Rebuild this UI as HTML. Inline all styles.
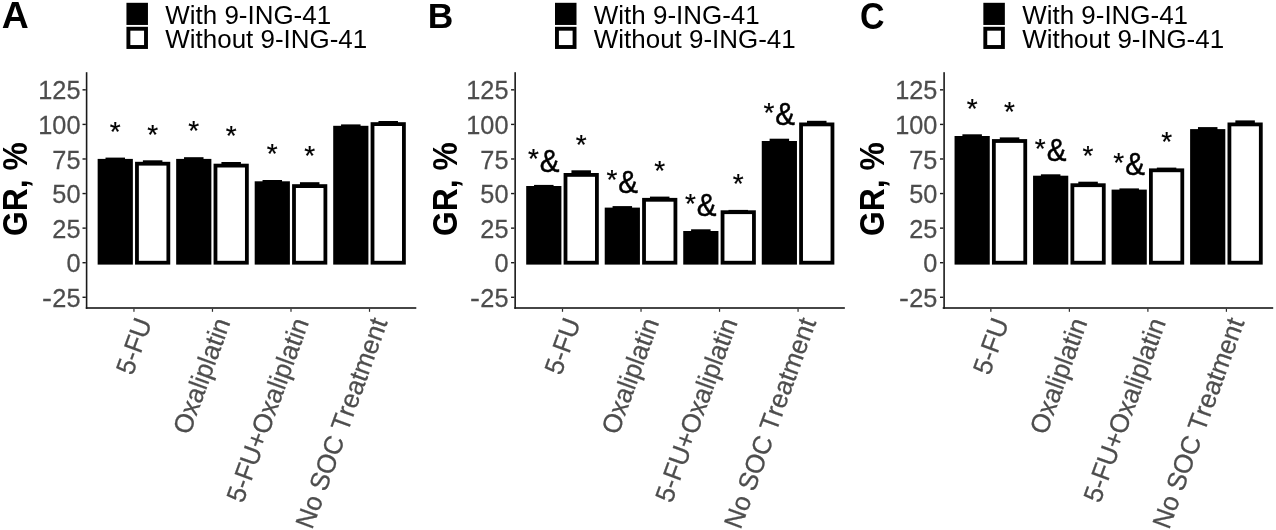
<!DOCTYPE html>
<html><head><meta charset="utf-8"><title>Figure</title>
<style>
html,body{margin:0;padding:0;background:#fff;}
body{width:1276px;height:530px;overflow:hidden;font-family:"Liberation Sans",sans-serif;}
svg{display:block;will-change:transform;filter:blur(0.35px);}
svg text{font-family:"Liberation Sans",sans-serif;font-kerning:none;}
.b{font-weight:bold;fill:#000;}
.g{fill:#4d4d4d;stroke:#4d4d4d;stroke-width:0.25px;}
.k{fill:#000;}
.ka{fill:#000;stroke:#000;stroke-width:0.45px;}
.ks{fill:#000;stroke:#000;stroke-width:0.2px;}
</style></head><body>
<svg width="1276" height="530" viewBox="0 0 1276 530">
<rect x="0" y="0" width="1276" height="530" fill="#fff"/>
<g transform="translate(0.00,0)">
<text class="b" transform="translate(1.87,27.85) scale(1.084,1.045)" font-size="34.50">A</text>
<rect x="126.45" y="2.80" width="21.50" height="22.15" fill="#000"/>
<rect x="126.45" y="26.80" width="21.50" height="22.15" fill="#000"/>
<rect x="130.35" y="30.70" width="13.70" height="14.35" fill="#fff"/>
<text class="k" transform="translate(165.30,23.55) scale(1,1.010)" font-size="25.95">With 9-ING-41</text>
<text class="k" transform="translate(165.30,48.00) scale(1,1.010)" font-size="25.95">Without 9-ING-41</text>
<text class="b" transform="translate(26.90,189.10) rotate(-90) scale(0.935,1.030)" text-anchor="middle" font-size="34.00">GR, %</text>
<rect x="85.80" y="72.20" width="1.60" height="236.60" fill="#1a1a1a"/>
<rect x="85.80" y="307.20" width="330.50" height="1.60" fill="#1a1a1a"/>
<rect x="82.50" y="89.13" width="3.30" height="1.40" fill="#1a1a1a"/>
<text class="g" transform="translate(80.50,99.38) scale(0.985,1.030)" text-anchor="end" font-size="25.70">125</text>
<rect x="82.50" y="123.71" width="3.30" height="1.40" fill="#1a1a1a"/>
<text class="g" transform="translate(80.50,133.96) scale(0.985,1.030)" text-anchor="end" font-size="25.70">100</text>
<rect x="82.50" y="158.28" width="3.30" height="1.40" fill="#1a1a1a"/>
<text class="g" transform="translate(80.50,168.53) scale(0.985,1.030)" text-anchor="end" font-size="25.70">75</text>
<rect x="82.50" y="192.86" width="3.30" height="1.40" fill="#1a1a1a"/>
<text class="g" transform="translate(80.50,203.11) scale(0.985,1.030)" text-anchor="end" font-size="25.70">50</text>
<rect x="82.50" y="227.43" width="3.30" height="1.40" fill="#1a1a1a"/>
<text class="g" transform="translate(80.50,237.68) scale(0.985,1.030)" text-anchor="end" font-size="25.70">25</text>
<rect x="82.50" y="262.01" width="3.30" height="1.40" fill="#1a1a1a"/>
<text class="g" transform="translate(80.50,272.26) scale(0.985,1.030)" text-anchor="end" font-size="25.70">0</text>
<rect x="82.50" y="296.58" width="3.30" height="1.40" fill="#1a1a1a"/>
<text class="g" transform="translate(80.50,306.83) scale(0.985,1.030)" text-anchor="end" font-size="25.70">25</text>
<text class="g" transform="translate(51.95,306.83) scale(1.160,1.030)" text-anchor="end" font-size="25.70">-</text>
<rect x="133.35" y="308.80" width="1.20" height="3.00" fill="#2e2e2e"/>
<text class="g" transform="translate(152.25,322.10) rotate(-70.0) scale(1,1.020)" text-anchor="end" font-size="25.90">5-FU</text>
<rect x="211.87" y="308.80" width="1.20" height="3.00" fill="#2e2e2e"/>
<text class="g" transform="translate(230.77,322.10) rotate(-70.0) scale(1,1.020)" text-anchor="end" font-size="25.90">Oxaliplatin</text>
<rect x="290.39" y="308.80" width="1.20" height="3.00" fill="#2e2e2e"/>
<text class="g" transform="translate(309.29,322.10) rotate(-70.0) scale(1,1.020)" text-anchor="end" font-size="25.90">5-FU+Oxaliplatin</text>
<rect x="368.91" y="308.80" width="1.20" height="3.00" fill="#2e2e2e"/>
<text class="g" transform="translate(387.81,322.10) rotate(-70.0) scale(1,1.020)" text-anchor="end" font-size="25.90">No SOC Treatment</text>
<rect x="97.65" y="158.90" width="35.20" height="105.70" fill="#000"/>
<rect x="105.50" y="157.60" width="19.50" height="2.30" fill="#000"/>
<text class="ks" x="115.25" y="140.80" text-anchor="middle" font-size="28.00">*</text>
<rect x="135.05" y="161.80" width="35.20" height="102.80" fill="#000"/>
<rect x="138.85" y="165.60" width="27.60" height="95.20" fill="#fff"/>
<rect x="142.90" y="160.30" width="19.50" height="2.50" fill="#000"/>
<text class="ks" x="152.65" y="143.50" text-anchor="middle" font-size="28.00">*</text>
<rect x="176.17" y="158.90" width="35.20" height="105.70" fill="#000"/>
<rect x="184.02" y="157.20" width="19.50" height="2.70" fill="#000"/>
<text class="ks" x="193.77" y="140.40" text-anchor="middle" font-size="28.00">*</text>
<rect x="213.57" y="163.70" width="35.20" height="100.90" fill="#000"/>
<rect x="217.37" y="167.50" width="27.60" height="93.30" fill="#fff"/>
<rect x="221.42" y="162.00" width="19.50" height="2.70" fill="#000"/>
<text class="ks" x="231.17" y="145.20" text-anchor="middle" font-size="28.00">*</text>
<rect x="254.69" y="181.30" width="35.20" height="83.30" fill="#000"/>
<rect x="262.54" y="180.00" width="19.50" height="2.30" fill="#000"/>
<text class="ks" x="272.29" y="163.20" text-anchor="middle" font-size="28.00">*</text>
<rect x="292.09" y="184.20" width="35.20" height="80.40" fill="#000"/>
<rect x="295.89" y="188.00" width="27.60" height="72.80" fill="#fff"/>
<rect x="299.94" y="182.20" width="19.50" height="3.00" fill="#000"/>
<text class="ks" x="309.69" y="165.40" text-anchor="middle" font-size="28.00">*</text>
<rect x="333.21" y="125.80" width="35.20" height="138.80" fill="#000"/>
<rect x="341.06" y="124.40" width="19.50" height="2.40" fill="#000"/>
<rect x="370.61" y="122.20" width="35.20" height="142.40" fill="#000"/>
<rect x="374.41" y="126.00" width="27.60" height="134.80" fill="#fff"/>
<rect x="378.46" y="121.00" width="19.50" height="2.20" fill="#000"/>
</g>
<g transform="translate(428.55,0)">
<text class="b" transform="translate(-0.92,28.05) scale(1.026,1.040)" font-size="34.50">B</text>
<rect x="126.45" y="2.80" width="21.50" height="22.15" fill="#000"/>
<rect x="126.45" y="26.80" width="21.50" height="22.15" fill="#000"/>
<rect x="130.35" y="30.70" width="13.70" height="14.35" fill="#fff"/>
<text class="k" transform="translate(165.30,23.55) scale(1,1.010)" font-size="25.95">With 9-ING-41</text>
<text class="k" transform="translate(165.30,48.00) scale(1,1.010)" font-size="25.95">Without 9-ING-41</text>
<text class="b" transform="translate(28.05,189.10) rotate(-90) scale(0.935,1.030)" text-anchor="middle" font-size="34.00">GR, %</text>
<rect x="85.80" y="72.20" width="1.60" height="236.60" fill="#1a1a1a"/>
<rect x="85.80" y="307.20" width="330.50" height="1.60" fill="#1a1a1a"/>
<rect x="82.50" y="89.13" width="3.30" height="1.40" fill="#1a1a1a"/>
<text class="g" transform="translate(79.95,99.38) scale(0.985,1.030)" text-anchor="end" font-size="25.70">125</text>
<rect x="82.50" y="123.71" width="3.30" height="1.40" fill="#1a1a1a"/>
<text class="g" transform="translate(79.95,133.96) scale(0.985,1.030)" text-anchor="end" font-size="25.70">100</text>
<rect x="82.50" y="158.28" width="3.30" height="1.40" fill="#1a1a1a"/>
<text class="g" transform="translate(79.95,168.53) scale(0.985,1.030)" text-anchor="end" font-size="25.70">75</text>
<rect x="82.50" y="192.86" width="3.30" height="1.40" fill="#1a1a1a"/>
<text class="g" transform="translate(79.95,203.11) scale(0.985,1.030)" text-anchor="end" font-size="25.70">50</text>
<rect x="82.50" y="227.43" width="3.30" height="1.40" fill="#1a1a1a"/>
<text class="g" transform="translate(79.95,237.68) scale(0.985,1.030)" text-anchor="end" font-size="25.70">25</text>
<rect x="82.50" y="262.01" width="3.30" height="1.40" fill="#1a1a1a"/>
<text class="g" transform="translate(79.95,272.26) scale(0.985,1.030)" text-anchor="end" font-size="25.70">0</text>
<rect x="82.50" y="296.58" width="3.30" height="1.40" fill="#1a1a1a"/>
<text class="g" transform="translate(79.95,306.83) scale(0.985,1.030)" text-anchor="end" font-size="25.70">25</text>
<text class="g" transform="translate(51.40,306.83) scale(1.160,1.030)" text-anchor="end" font-size="25.70">-</text>
<rect x="133.35" y="308.80" width="1.20" height="3.00" fill="#2e2e2e"/>
<text class="g" transform="translate(152.25,322.10) rotate(-70.0) scale(1,1.020)" text-anchor="end" font-size="25.90">5-FU</text>
<rect x="211.87" y="308.80" width="1.20" height="3.00" fill="#2e2e2e"/>
<text class="g" transform="translate(230.77,322.10) rotate(-70.0) scale(1,1.020)" text-anchor="end" font-size="25.90">Oxaliplatin</text>
<rect x="290.39" y="308.80" width="1.20" height="3.00" fill="#2e2e2e"/>
<text class="g" transform="translate(309.29,322.10) rotate(-70.0) scale(1,1.020)" text-anchor="end" font-size="25.90">5-FU+Oxaliplatin</text>
<rect x="368.91" y="308.80" width="1.20" height="3.00" fill="#2e2e2e"/>
<text class="g" transform="translate(387.81,322.10) rotate(-70.0) scale(1,1.020)" text-anchor="end" font-size="25.90">No SOC Treatment</text>
<rect x="97.65" y="186.00" width="35.20" height="78.60" fill="#000"/>
<rect x="105.50" y="184.90" width="19.50" height="2.10" fill="#000"/>
<text class="ks" x="99.35" y="168.10" font-size="28.00">*</text>
<text class="ka" transform="translate(111.25,171.65) scale(0.985,1.070)" font-size="30.00">&amp;</text>
<rect x="135.05" y="173.00" width="35.20" height="91.60" fill="#000"/>
<rect x="138.85" y="176.80" width="27.60" height="84.00" fill="#fff"/>
<rect x="142.90" y="170.30" width="19.50" height="3.70" fill="#000"/>
<text class="ks" x="152.65" y="153.50" text-anchor="middle" font-size="28.00">*</text>
<rect x="176.17" y="207.60" width="35.20" height="57.00" fill="#000"/>
<rect x="184.02" y="206.10" width="19.50" height="2.50" fill="#000"/>
<text class="ks" x="177.87" y="189.30" font-size="28.00">*</text>
<text class="ka" transform="translate(189.77,192.85) scale(0.985,1.070)" font-size="30.00">&amp;</text>
<rect x="213.57" y="197.90" width="35.20" height="66.70" fill="#000"/>
<rect x="217.37" y="201.70" width="27.60" height="59.10" fill="#fff"/>
<rect x="221.42" y="196.60" width="19.50" height="2.30" fill="#000"/>
<text class="ks" x="231.17" y="179.80" text-anchor="middle" font-size="28.00">*</text>
<rect x="254.69" y="231.00" width="35.20" height="33.60" fill="#000"/>
<rect x="262.54" y="229.30" width="19.50" height="2.70" fill="#000"/>
<text class="ks" x="256.39" y="212.50" font-size="28.00">*</text>
<text class="ka" transform="translate(268.29,216.05) scale(0.985,1.070)" font-size="30.00">&amp;</text>
<rect x="292.09" y="210.30" width="35.20" height="54.30" fill="#000"/>
<rect x="295.89" y="214.10" width="27.60" height="46.70" fill="#fff"/>
<rect x="299.94" y="209.90" width="19.50" height="1.40" fill="#000"/>
<text class="ks" x="309.69" y="193.10" text-anchor="middle" font-size="28.00">*</text>
<rect x="333.21" y="141.00" width="35.20" height="123.60" fill="#000"/>
<rect x="341.06" y="138.70" width="19.50" height="3.30" fill="#000"/>
<text class="ks" x="334.91" y="121.90" font-size="28.00">*</text>
<text class="ka" transform="translate(346.81,125.45) scale(0.985,1.070)" font-size="30.00">&amp;</text>
<rect x="370.61" y="122.50" width="35.20" height="142.10" fill="#000"/>
<rect x="374.41" y="126.30" width="27.60" height="134.50" fill="#fff"/>
<rect x="378.46" y="120.80" width="19.50" height="2.70" fill="#000"/>
</g>
<g transform="translate(856.90,0)">
<text class="b" transform="translate(3.10,28.95) scale(0.984,1.056)" font-size="34.50">C</text>
<rect x="126.45" y="2.80" width="21.50" height="22.15" fill="#000"/>
<rect x="126.45" y="26.80" width="21.50" height="22.15" fill="#000"/>
<rect x="130.35" y="30.70" width="13.70" height="14.35" fill="#fff"/>
<text class="k" transform="translate(165.30,23.55) scale(1,1.010)" font-size="25.95">With 9-ING-41</text>
<text class="k" transform="translate(165.30,48.00) scale(1,1.010)" font-size="25.95">Without 9-ING-41</text>
<text class="b" transform="translate(26.90,189.10) rotate(-90) scale(0.935,1.030)" text-anchor="middle" font-size="34.00">GR, %</text>
<rect x="86.40" y="72.20" width="1.60" height="236.60" fill="#1a1a1a"/>
<rect x="85.80" y="307.20" width="330.50" height="1.60" fill="#1a1a1a"/>
<rect x="83.10" y="89.13" width="3.30" height="1.40" fill="#1a1a1a"/>
<text class="g" transform="translate(80.50,99.38) scale(0.985,1.030)" text-anchor="end" font-size="25.70">125</text>
<rect x="83.10" y="123.71" width="3.30" height="1.40" fill="#1a1a1a"/>
<text class="g" transform="translate(80.50,133.96) scale(0.985,1.030)" text-anchor="end" font-size="25.70">100</text>
<rect x="83.10" y="158.28" width="3.30" height="1.40" fill="#1a1a1a"/>
<text class="g" transform="translate(80.50,168.53) scale(0.985,1.030)" text-anchor="end" font-size="25.70">75</text>
<rect x="83.10" y="192.86" width="3.30" height="1.40" fill="#1a1a1a"/>
<text class="g" transform="translate(80.50,203.11) scale(0.985,1.030)" text-anchor="end" font-size="25.70">50</text>
<rect x="83.10" y="227.43" width="3.30" height="1.40" fill="#1a1a1a"/>
<text class="g" transform="translate(80.50,237.68) scale(0.985,1.030)" text-anchor="end" font-size="25.70">25</text>
<rect x="83.10" y="262.01" width="3.30" height="1.40" fill="#1a1a1a"/>
<text class="g" transform="translate(80.50,272.26) scale(0.985,1.030)" text-anchor="end" font-size="25.70">0</text>
<rect x="83.10" y="296.58" width="3.30" height="1.40" fill="#1a1a1a"/>
<text class="g" transform="translate(80.50,306.83) scale(0.985,1.030)" text-anchor="end" font-size="25.70">25</text>
<text class="g" transform="translate(51.95,306.83) scale(1.160,1.030)" text-anchor="end" font-size="25.70">-</text>
<rect x="133.35" y="308.80" width="1.20" height="3.00" fill="#2e2e2e"/>
<text class="g" transform="translate(152.25,322.10) rotate(-70.0) scale(1,1.020)" text-anchor="end" font-size="25.90">5-FU</text>
<rect x="211.87" y="308.80" width="1.20" height="3.00" fill="#2e2e2e"/>
<text class="g" transform="translate(230.77,322.10) rotate(-70.0) scale(1,1.020)" text-anchor="end" font-size="25.90">Oxaliplatin</text>
<rect x="290.39" y="308.80" width="1.20" height="3.00" fill="#2e2e2e"/>
<text class="g" transform="translate(309.29,322.10) rotate(-70.0) scale(1,1.020)" text-anchor="end" font-size="25.90">5-FU+Oxaliplatin</text>
<rect x="368.91" y="308.80" width="1.20" height="3.00" fill="#2e2e2e"/>
<text class="g" transform="translate(387.81,322.10) rotate(-70.0) scale(1,1.020)" text-anchor="end" font-size="25.90">No SOC Treatment</text>
<rect x="97.65" y="136.00" width="35.20" height="128.60" fill="#000"/>
<rect x="105.50" y="134.30" width="19.50" height="2.70" fill="#000"/>
<text class="ks" x="115.25" y="117.50" text-anchor="middle" font-size="28.00">*</text>
<rect x="135.05" y="139.10" width="35.20" height="125.50" fill="#000"/>
<rect x="138.85" y="142.90" width="27.60" height="117.90" fill="#fff"/>
<rect x="142.90" y="137.40" width="19.50" height="2.70" fill="#000"/>
<text class="ks" x="152.65" y="120.60" text-anchor="middle" font-size="28.00">*</text>
<rect x="176.17" y="175.70" width="35.20" height="88.90" fill="#000"/>
<rect x="184.02" y="174.30" width="19.50" height="2.40" fill="#000"/>
<text class="ks" x="177.87" y="157.50" font-size="28.00">*</text>
<text class="ka" transform="translate(189.77,161.05) scale(0.985,1.070)" font-size="30.00">&amp;</text>
<rect x="213.57" y="183.30" width="35.20" height="81.30" fill="#000"/>
<rect x="217.37" y="187.10" width="27.60" height="73.70" fill="#fff"/>
<rect x="221.42" y="181.70" width="19.50" height="2.60" fill="#000"/>
<text class="ks" x="231.17" y="164.90" text-anchor="middle" font-size="28.00">*</text>
<rect x="254.69" y="189.60" width="35.20" height="75.00" fill="#000"/>
<rect x="262.54" y="188.40" width="19.50" height="2.20" fill="#000"/>
<text class="ks" x="256.39" y="171.60" font-size="28.00">*</text>
<text class="ka" transform="translate(268.29,175.15) scale(0.985,1.070)" font-size="30.00">&amp;</text>
<rect x="292.09" y="168.40" width="35.20" height="96.20" fill="#000"/>
<rect x="295.89" y="172.20" width="27.60" height="88.60" fill="#fff"/>
<rect x="299.94" y="167.60" width="19.50" height="1.80" fill="#000"/>
<text class="ks" x="309.69" y="150.80" text-anchor="middle" font-size="28.00">*</text>
<rect x="333.21" y="129.10" width="35.20" height="135.50" fill="#000"/>
<rect x="341.06" y="127.10" width="19.50" height="3.00" fill="#000"/>
<rect x="370.61" y="122.50" width="35.20" height="142.10" fill="#000"/>
<rect x="374.41" y="126.30" width="27.60" height="134.50" fill="#fff"/>
<rect x="378.46" y="120.40" width="19.50" height="3.10" fill="#000"/>
</g>
</svg>
</body></html>
